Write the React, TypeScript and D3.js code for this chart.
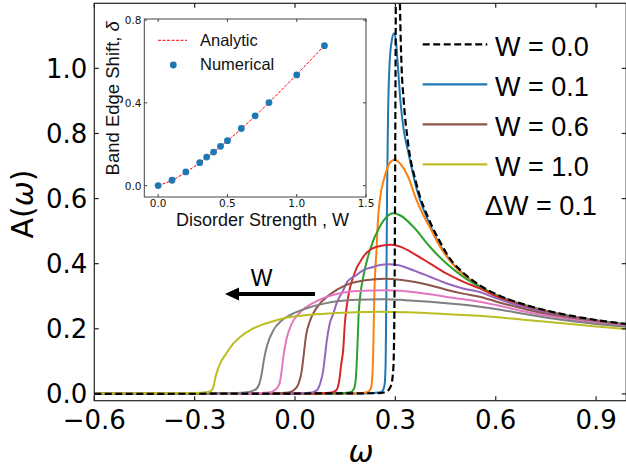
import React from 'react';
import * as d3 from 'd3';

// ---------- main plot data: [omega, A(omega)] ----------
const curveW00: [number, number][] = [
  [-0.6, 0], [0.25, 0.002], [0.275, 0.008], [0.287, 0.025], [0.294, 0.08], [0.297, 0.25], [0.299, 0.6],
  [0.3005, 1.0], [0.302, 1.4], [0.307, 2.2], [0.311, 1.4], [0.314, 1.18], [0.318, 1.02], [0.325, 0.9],
  [0.338, 0.77], [0.363, 0.645], [0.403, 0.53], [0.432, 0.47], [0.462, 0.417], [0.502, 0.373],
  [0.55, 0.335], [0.6, 0.307], [0.7, 0.27], [0.8, 0.245], [0.9, 0.227], [0.99, 0.215],
];
const curveW01: [number, number][] = [
  [-0.6, 0], [0.2, 0.001], [0.25, 0.004], [0.262, 0.01], [0.268, 0.03], [0.271, 0.1], [0.273, 0.3],
  [0.275, 0.6], [0.278, 0.85], [0.283, 1.02], [0.29, 1.09], [0.296, 1.108], [0.302, 1.08], [0.308, 1.0],
  [0.315, 0.9], [0.325, 0.81], [0.338, 0.745], [0.363, 0.632], [0.403, 0.52], [0.432, 0.46], [0.462, 0.412],
  [0.502, 0.369], [0.55, 0.331], [0.6, 0.305], [0.7, 0.269], [0.8, 0.244], [0.9, 0.226], [0.99, 0.214],
];
const curveW02: [number, number][] = [
  [-0.6, 0], [0.18, 0.001], [0.215, 0.005], [0.226, 0.015], [0.231, 0.05], [0.234, 0.14], [0.237, 0.3],
  [0.2436, 0.442], [0.2485, 0.544], [0.2535, 0.596], [0.268, 0.667], [0.283, 0.709], [0.297, 0.719],
  [0.318, 0.703], [0.338, 0.667], [0.363, 0.596], [0.383, 0.55], [0.403, 0.512], [0.432, 0.455],
  [0.462, 0.41], [0.502, 0.367], [0.55, 0.33], [0.6, 0.304], [0.7, 0.268], [0.8, 0.243], [0.9, 0.225], [0.99, 0.213],
];
const curveW03: [number, number][] = [
  [-0.6, 0], [0.12, 0.001], [0.165, 0.005], [0.176, 0.015], [0.182, 0.05], [0.186, 0.13], [0.19, 0.24],
  [0.196, 0.31], [0.204, 0.36], [0.224, 0.442], [0.2535, 0.514], [0.275, 0.545], [0.292, 0.555],
  [0.315, 0.548], [0.353, 0.514], [0.403, 0.452], [0.452, 0.401], [0.502, 0.36], [0.552, 0.329],
  [0.6, 0.303], [0.7, 0.267], [0.8, 0.242], [0.9, 0.224], [0.99, 0.213],
];
const curveW04: [number, number][] = [
  [-0.6, 0], [0.06, 0.001], [0.11, 0.004], [0.124, 0.012], [0.132, 0.04], [0.138, 0.09], [0.144, 0.135],
  [0.149, 0.217], [0.159, 0.299], [0.174, 0.36], [0.204, 0.421], [0.244, 0.452], [0.288, 0.458],
  [0.32, 0.45], [0.353, 0.432], [0.403, 0.401], [0.452, 0.37], [0.502, 0.345], [0.552, 0.324],
  [0.6, 0.3], [0.7, 0.265], [0.8, 0.241], [0.9, 0.224], [0.99, 0.212],
];
const curveW05: [number, number][] = [
  [-0.6, 0], [0.0, 0.001], [0.05, 0.004], [0.066, 0.012], [0.076, 0.035], [0.084, 0.07], [0.09, 0.12],
  [0.0945, 0.16], [0.104, 0.217], [0.114, 0.245], [0.124, 0.278], [0.144, 0.318], [0.1565, 0.345],
  [0.184, 0.365], [0.204, 0.38], [0.234, 0.39], [0.2535, 0.396], [0.28, 0.398], [0.31, 0.395],
  [0.353, 0.38], [0.403, 0.36], [0.452, 0.34], [0.502, 0.324], [0.552, 0.313],
  [0.6, 0.294], [0.7, 0.262], [0.8, 0.239], [0.9, 0.222], [0.99, 0.211],
];
const curveW06: [number, number][] = [
  [-0.6, 0], [-0.08, 0.001], [-0.02, 0.004], [-0.003, 0.012], [0.01, 0.03], [0.02, 0.07], [0.026, 0.12],
  [0.033, 0.18], [0.045, 0.225], [0.065, 0.265], [0.104, 0.305], [0.154, 0.335], [0.21, 0.349],
  [0.268, 0.354], [0.32, 0.35], [0.403, 0.334], [0.452, 0.32], [0.502, 0.308], [0.552, 0.2985],
  [0.6, 0.284], [0.7, 0.257], [0.8, 0.236], [0.9, 0.22], [0.99, 0.21],
];
const curveW07: [number, number][] = [
  [-0.6, 0], [-0.15, 0.001], [-0.08, 0.004], [-0.06, 0.012], [-0.047, 0.03], [-0.04, 0.07], [-0.034, 0.12],
  [-0.025, 0.17], [-0.01, 0.215], [0.015, 0.25], [0.065, 0.285], [0.134, 0.309], [0.2, 0.317],
  [0.27, 0.318], [0.33, 0.315], [0.403, 0.306], [0.47, 0.295], [0.552, 0.283],
  [0.6, 0.273], [0.7, 0.25], [0.8, 0.232], [0.9, 0.218], [0.99, 0.208],
];
const curveW08: [number, number][] = [
  [-0.6, 0], [-0.22, 0.001], [-0.15, 0.004], [-0.12, 0.012], [-0.107, 0.03], [-0.1, 0.06], [-0.092, 0.11],
  [-0.083, 0.15], [-0.065, 0.195], [-0.04, 0.225], [-0.015, 0.242], [0.035, 0.263], [0.09, 0.278],
  [0.184, 0.289], [0.263, 0.291], [0.33, 0.288], [0.403, 0.283], [0.47, 0.277], [0.552, 0.268],
  [0.6, 0.261], [0.7, 0.243], [0.8, 0.227], [0.9, 0.215], [0.99, 0.206],
];
const curveW10: [number, number][] = [
  [-0.6, 0.001], [-0.3, 0.003], [-0.26, 0.006], [-0.248, 0.012], [-0.242, 0.03], [-0.238, 0.05],
  [-0.232, 0.072], [-0.222, 0.097], [-0.205, 0.125], [-0.184, 0.155], [-0.164, 0.175], [-0.134, 0.196],
  [-0.1, 0.212], [-0.065, 0.223], [-0.015, 0.236], [0.035, 0.242], [0.1, 0.247], [0.18, 0.251],
  [0.25, 0.252], [0.33, 0.251], [0.4, 0.248], [0.47, 0.244], [0.552, 0.24], [0.7, 0.226],
  [0.8, 0.217], [0.9, 0.207], [0.99, 0.199],
];

const disorderLevels = ['0.1', '0.2', '0.3', '0.4', '0.5', '0.6', '0.7', '0.8', '1.0'];
const coloredCurves = [curveW01, curveW02, curveW03, curveW04, curveW05, curveW06, curveW07, curveW08, curveW10];
const curveColors = ['#1f77b4', '#ff7f0e', '#2ca02c', '#d62728', '#9467bd', '#8c564b', '#e377c2', '#7f7f7f', '#bcbd22'];

const legendLabels = ['W = 0.0', 'W = 0.1', 'W = 0.6', 'W = 1.0'];
const legendColors = ['#000000', '#1f77b4', '#8c564b', '#bcbd22'];
const legendNote = 'ΔW = 0.1';

const xTicks = [-0.6, -0.3, 0.0, 0.3, 0.6, 0.9];
const yTicks = [0.0, 0.2, 0.4, 0.6, 0.8, 1.0];

// ---------- inset data ----------
const insetW = [0, 0.1, 0.2, 0.3, 0.35, 0.4, 0.45, 0.5, 0.6, 0.7, 0.8, 1.0, 1.2];
const numericalShift = [0, 0.026, 0.066, 0.111, 0.138, 0.162, 0.19, 0.217, 0.276, 0.337, 0.401, 0.535, 0.676];
const analyticShift = [0, 0.024, 0.064, 0.11, 0.136, 0.162, 0.189, 0.216, 0.274, 0.336, 0.401, 0.536, 0.677];
const insetXTicks = [0.0, 0.5, 1.0, 1.5];
const insetYTicks = [0.0, 0.4, 0.8];

const fmt = (v: number) => (v < 0 ? '\u2212' : '') + Math.abs(v).toFixed(1);

export default function App() {
  const W = 626, H = 468;
  const L = 94.3, R = 626.2, T = 3.3, B = 400.7;
  const x = d3.scaleLinear().domain([-0.6, 0.99]).range([L, R]);
  const y = d3.scaleLinear().domain([-0.021, 1.2]).range([B, T]);
  const line = d3.line<[number, number]>().x(d => x(d[0])).y(d => y(d[1])).curve(d3.curveMonotoneX);

  const iL = 144.3, iR = 366, iT = 19, iB = 197;
  const ix = d3.scaleLinear().domain([-0.1, 1.5]).range([iL, iR]);
  const iy = d3.scaleLinear().domain([-0.055, 0.805]).range([iB, iT]);
  const iline = d3.line<number>().x((_, i) => ix(insetW[i])).y(d => iy(d));

  const tickFont = 'DejaVu Sans, sans-serif';
  const sansFont = 'Liberation Sans, Arial, sans-serif';
  const tl = 4.5;
  const itl = 3;

  return (
    <svg width={W} height={H} style={{ position: 'absolute', left: 0, top: 0, background: '#fff' }}>
      <defs>
        <clipPath id="plotClip">
          <rect x={L} y={T} width={R - L} height={B - T} />
        </clipPath>
      </defs>
      <rect x={0} y={0} width={W} height={H} fill="#fff" />

      <g clipPath="url(#plotClip)">
        {coloredCurves.map((c, i) => (
          <path key={disorderLevels[i]} d={line(c) || ''} fill="none" stroke={curveColors[i]} strokeWidth={2} />
        ))}
        <path d={line(curveW00) || ''} fill="none" stroke="#000" strokeWidth={2.2} strokeDasharray="7,3.5" />
      </g>

      {/* main frame */}
      <rect x={L} y={T} width={R - L} height={B - T} fill="none" stroke="#222" strokeWidth={1.2} />
      {xTicks.map(t => (
        <g key={'xt' + t}>
          <line x1={x(t)} x2={x(t)} y1={B} y2={B - tl} stroke="#222" strokeWidth={1.2} />
          <line x1={x(t)} x2={x(t)} y1={T} y2={T + tl} stroke="#222" strokeWidth={1.2} />
          <text x={x(t)} y={428.8} fontFamily={tickFont} fontSize={26} textAnchor="middle" fill="#000">{fmt(t)}</text>
        </g>
      ))}
      {yTicks.map(t => (
        <g key={'yt' + t}>
          <line x1={L} x2={L + tl} y1={y(t)} y2={y(t)} stroke="#222" strokeWidth={1.2} />
          <line x1={R} x2={R - tl} y1={y(t)} y2={y(t)} stroke="#222" strokeWidth={1.2} />
          <text x={87.3} y={y(t) + 9.3} fontFamily={tickFont} fontSize={26} textAnchor="end" fill="#000">{fmt(t)}</text>
        </g>
      ))}
      <text x={361} y={461.5} fontFamily={tickFont} fontSize={30} fontStyle="italic" textAnchor="middle">ω</text>
      <text transform="translate(33,204) rotate(-90)" fontFamily={tickFont} fontSize={30} textAnchor="middle">
        A(<tspan fontStyle="italic">ω</tspan>)
      </text>

      {/* arrow */}
      <line x1={315} x2={236} y1={294} y2={294} stroke="#000" strokeWidth={4.2} />
      <polygon points="225,294 239,287.5 239,300.5" fill="#000" />
      <text x={261.7} y={285.5} fontFamily={sansFont} fontSize={23} textAnchor="middle">W</text>

      {/* legend */}
      {legendLabels.map((lab, i) => (
        <g key={lab}>
          <line x1={422.7} x2={487.3} y1={44.3 + i * 40} y2={44.3 + i * 40} stroke={legendColors[i]} strokeWidth={2.2}
            strokeDasharray={i === 0 ? '7,3.5' : undefined} />
          <text x={495} y={56 + i * 40} fontFamily={sansFont} fontSize={27} fill="#000">{lab}</text>
        </g>
      ))}
      <text x={485} y={215} fontFamily={sansFont} fontSize={27} fill="#000">{legendNote}</text>

      {/* inset */}
      <rect x={iL} y={iT} width={iR - iL} height={iB - iT} fill="#fff" stroke="#444" strokeWidth={1} />
      {insetXTicks.map(t => (
        <g key={'ixt' + t}>
          <line x1={ix(t)} x2={ix(t)} y1={iB} y2={iB - itl} stroke="#444" />
          <line x1={ix(t)} x2={ix(t)} y1={iT} y2={iT + itl} stroke="#444" />
          <text x={ix(t)} y={207.2} fontFamily={tickFont} fontSize={10.5} textAnchor="middle" fill="#111">{t.toFixed(1)}</text>
        </g>
      ))}
      {insetYTicks.map(t => (
        <g key={'iyt' + t}>
          <line x1={iL} x2={iL + itl} y1={iy(t)} y2={iy(t)} stroke="#444" />
          <line x1={iR} x2={iR - itl} y1={iy(t)} y2={iy(t)} stroke="#444" />
          <text x={141.5} y={iy(t) + 4} fontFamily={tickFont} fontSize={10.5} textAnchor="end" fill="#111">{t.toFixed(1)}</text>
        </g>
      ))}
      <path d={iline(analyticShift) || ''} fill="none" stroke="#ff0000" strokeWidth={1} strokeDasharray="3,1.5" />
      {numericalShift.map((v, i) => (
        <circle key={'pt' + i} cx={ix(insetW[i])} cy={iy(v)} r={3.4} fill="#1f77b4" />
      ))}
      <line x1={158} x2={187} y1={40.3} y2={40.3} stroke="#ff0000" strokeWidth={1} strokeDasharray="3,1.5" />
      <text x={200} y={46.3} fontFamily={sansFont} fontSize={16.5} fill="#111">Analytic</text>
      <circle cx={173.3} cy={65} r={3.4} fill="#1f77b4" />
      <text x={200} y={69.5} fontFamily={sansFont} fontSize={16.5} fill="#111">Numerical</text>
      <text x={262.5} y={226} fontFamily={sansFont} fontSize={18} textAnchor="middle" fill="#111">Disorder Strength , W</text>
      <text transform="translate(119,98.3) rotate(-90)" fontFamily={sansFont} fontSize={18.5} textAnchor="middle" fill="#111">
        Band Edge Shift, <tspan fontStyle="italic">δ</tspan>
      </text>
    </svg>
  );
}
